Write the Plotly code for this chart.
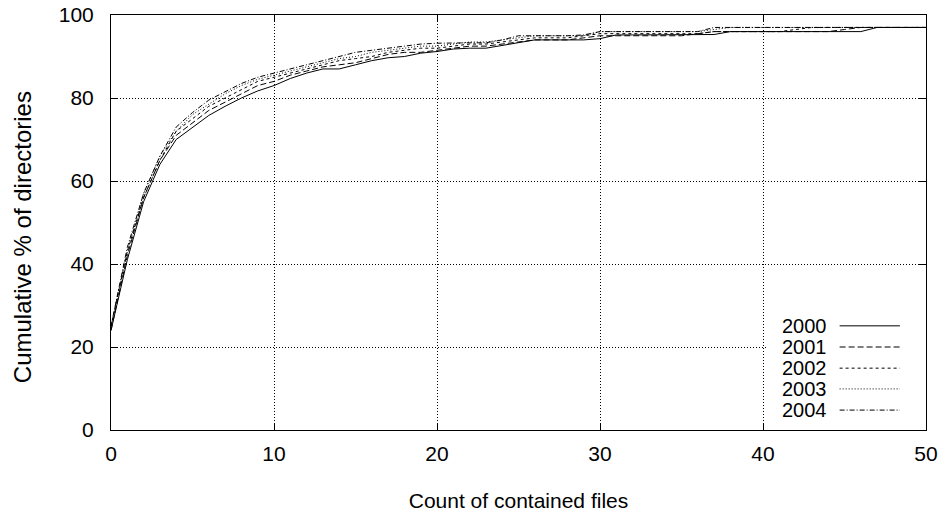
import plotly.graph_objects as go

files = list(range(0, 51))

y2000 = [24, 41, 55, 64, 70, 73, 75.8, 78, 80, 81.7, 83, 84.7, 86, 87, 87, 88, 89, 89.7, 90, 90.8,
         91.2, 91.8, 92, 92, 92.7, 93.3, 94, 94, 94, 94, 94.3, 95.2, 95.2, 95.2, 95.2, 95.2, 95.2, 95.3,
         96, 96, 96, 96, 96, 96, 96, 96, 96, 97, 97, 97, 97]
y2001 = [24, 42, 56, 65, 71, 74, 77, 79, 81, 83, 84, 85.5, 86.5, 87.5, 88, 88.5, 89.5, 90.5, 91, 91,
         91.5, 92, 92.5, 92.5, 93, 93.5, 94, 94, 94, 94.5, 95, 95, 95, 95, 95, 95, 95.5, 96, 96, 96,
         96, 96, 96, 96, 96, 96.5, 97, 97, 97, 97, 97]
y2002 = [25, 43, 56, 65, 72, 75, 78, 80, 82, 84, 85, 86, 87, 88, 89, 89.5, 90, 91, 91.5, 92,
         92, 92.5, 93, 93, 93.5, 94, 94.5, 94.5, 94.5, 95, 95.5, 95.5, 95.5, 95.5, 95.5, 95.5, 95.5, 96, 96, 96,
         96, 96, 96.5, 97, 97, 97, 97, 97, 97, 97, 97]
y2003 = [25, 43, 57, 66, 72, 76, 78.5, 81, 83, 84.5, 85.5, 86.5, 87.5, 88.5, 89.5, 90, 91, 91.5, 92, 92.5,
         92.5, 93, 93.5, 93.5, 94, 94.5, 95, 95, 95, 95, 96, 96, 96, 96, 96, 96, 96, 96.5, 97, 97,
         97, 97, 97, 97, 97, 97, 97, 97, 97, 97, 97]
y2004 = [25, 44, 57, 66, 73, 76.5, 79.5, 81.5, 83.5, 85, 86, 87, 88, 89, 90, 91, 91.5, 92, 92.5, 93,
         93.2, 93.3, 93.3, 93.3, 94, 95, 95, 95, 95, 95.2, 96, 96, 96, 96, 96, 96, 96, 97, 97, 97,
         97, 97, 97, 97, 97, 97, 97, 97, 97, 97, 97]

years = ["2000", "2001", "2002", "2003", "2004"]
series = [y2000, y2001, y2002, y2003, y2004]
dashes = ["solid", "6px,3px", "3px,3px", "1px,2px", "5px,2px,1px,2px"]

FONT = "Liberation Sans, Arial, Helvetica, sans-serif"

fig = go.Figure()
for name, ys, d in zip(years, series, dashes):
    fig.add_trace(go.Scatter(x=files, y=ys, mode="lines", name=name,
                             line=dict(color="black", width=1, dash=d),
                             showlegend=False, hoverinfo="skip"))

# gnuplot-style key: opaque box, label then sample line
shapes = [dict(type="rect", xref="paper", yref="paper", x0=0.805, x1=1.0, y0=0.0, y1=0.285,
               fillcolor="white", line=dict(width=0), layer="above")]
annotations = []
row_y = [0.251, 0.200, 0.149, 0.099, 0.048]
for name, d, ry in zip(years, dashes, row_y):
    annotations.append(dict(xref="paper", yref="paper", x=0.880, y=ry, text=name, showarrow=False,
                            xanchor="right", yanchor="middle", borderpad=0,
                            font=dict(family=FONT, size=20, color="black")))
    shapes.append(dict(type="line", xref="paper", yref="paper", x0=0.894, x1=0.968, y0=ry, y1=ry,
                       line=dict(color="black", width=1, dash=d), layer="above"))

# y-axis label (gnuplot ylabel, rotated)
annotations.append(dict(xref="paper", yref="paper", x=-0.109, y=0.465, text="Cumulative % of directories",
                        textangle=-90, showarrow=False, xanchor="center", yanchor="middle",
                        font=dict(family=FONT, size=24, color="black")))

axis_common = dict(showline=True, linecolor="black", linewidth=1, mirror="ticks",
                   ticks="inside", ticklen=7, tickwidth=1, tickcolor="black",
                   showgrid=True, gridcolor="black", gridwidth=1, griddash="1px,2px",
                   zeroline=False, automargin=False,
                   tickfont=dict(family=FONT, size=21, color="black"))

fig.update_layout(
    width=944, height=514,
    margin=dict(l=111, r=18, t=15, b=84),
    paper_bgcolor="white", plot_bgcolor="white",
    font=dict(family=FONT, size=21, color="black"),
    shapes=shapes, annotations=annotations,
    xaxis=dict(range=[0, 50], tickvals=[0, 10, 20, 30, 40, 50], ticklabelstandoff=5,
               title=dict(text="Count of contained files", font=dict(family=FONT, size=21), standoff=29),
               **axis_common),
    yaxis=dict(range=[0, 100], tickvals=[0, 20, 40, 60, 80, 100], ticklabelstandoff=12,
               **axis_common),
)

fig.write_html("out.html", config={"displayModeBar": False},
               post_script="document.body.style.margin='0';")
